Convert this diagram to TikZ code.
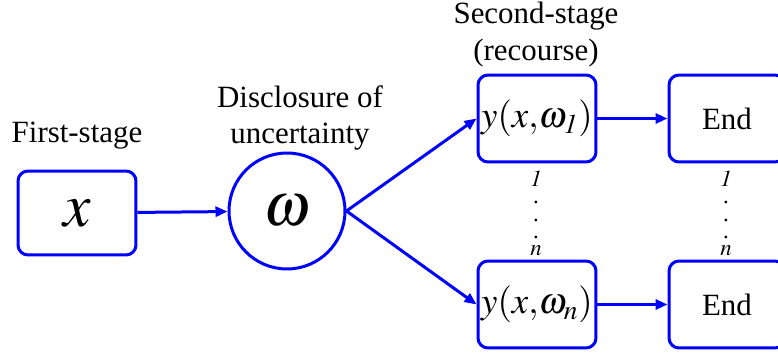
\documentclass[tikz,border=0pt]{standalone}
\usepackage{mathptmx}
\usepackage[no-math]{fontspec}
\setmainfont{Liberation Serif}
\usepackage{tikz}
\usetikzlibrary{shapes.geometric, positioning, arrows.meta}

\begin{document}
\begin{tikzpicture}[x=0.02cm, y=-0.02cm,
            stagebox/.style={rectangle, draw=blue, line width=0.06cm, rounded corners=0.2cm, minimum width=2.36cm, minimum height=1.74cm, inner sep=0pt},
            endbox/.style={stagebox, minimum width=2.32cm, font=\fontsize{17.6}{21}\selectfont},
            scenario/.style={circle, draw=blue, line width=0.06cm, minimum size=2.32cm, inner sep=0pt},
            caption/.style={align=center, inner sep=0pt, font=\fontsize{17.6}{21}\selectfont},
            index/.style={align=center, inner sep=0pt, font=\fontsize{13}{9.7}\selectfont},
            link/.style={-{Triangle[length=0.24cm, width=0.2cm]}, draw=blue, line width=0.06cm}
        ]
            \useasboundingbox (0,0) rectangle (778,354);

            % First stage
            \node[stagebox, minimum height=1.68cm, font=\fontsize{35}{40}\selectfont] (first) at (77,213) {$x$};
            \node[caption, anchor=base] (firstlbl) at (77,143) {First-stage};

            % Uncertainty
            \node[scenario, font=\fontsize{35}{40}\selectfont] (omega) at (287,211) {$\omega$};
            \node[caption, anchor=south] (omegalbl) at (300,151) {Disclosure of\\uncertainty};

            % Second stage (recourse)
            \node[stagebox, font=\fontsize{21}{24}\selectfont] (rec1) at (537,118.5) {$y(x{,}\omega_{\mathit{1}})$};
            \node[stagebox, font=\fontsize{21}{24}\selectfont] (recn) at (537,304.5) {$y(x{,}\omega_{n})$};
            \node[caption, anchor=south] (reclbl) at (536,67) {Second-stage\\(recourse)};

            % End
            \node[endbox] (end1) at (727,118.5) {End};
            \node[endbox] (endn) at (727,304.5) {End};

            % Scenario indices
            \node[index] (idxrec) at (536,213.5) {$\mathit{1}$\\.\\.\\.\\$n$};
            \node[index] (idxend) at (726,213.5) {$\mathit{1}$\\.\\.\\.\\$n$};

            % Arrows
            \draw[link] (first) -- (omega);
            \draw[link] (omega.east) -- (rec1.west);
            \draw[link] (omega.east) -- (recn.west);
            \draw[link] (rec1) -- (end1);
            \draw[link] (recn) -- (endn);

        \end{tikzpicture}
\end{document}
